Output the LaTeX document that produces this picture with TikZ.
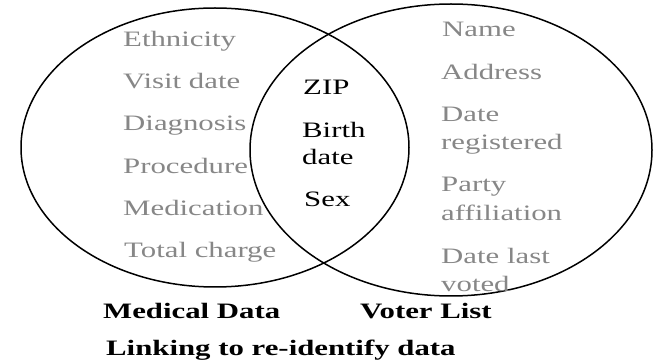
\documentclass[tikz,border=0pt]{standalone}
\usepackage{fontspec}
\setmainfont{Liberation Serif}[FakeStretch=1.4]
\begin{document}
\begin{tikzpicture}[x=1pt,y=-1pt,
  ring/.style={draw=black,line width=1.5pt},
  gtxt/.style={anchor=base west,inner sep=0pt,text=attr,font=\fontsize{22}{26}\selectfont},
  ktxt/.style={anchor=base west,inner sep=0pt,text=black,font=\fontsize{22}{26}\selectfont},
  btxt/.style={anchor=base west,inner sep=0pt,text=black,font=\fontsize{22}{26}\selectfont\bfseries}]
\definecolor{attr}{RGB}{135,135,135}
\useasboundingbox (0,0) rectangle (654,363);
\fill[white] (0,0) rectangle (654,363);
\draw[ring] (215,147.5) ellipse [x radius=194, y radius=139.5];
\draw[ring] (451,150) ellipse [x radius=201, y radius=146];
% left attributes
\node[gtxt] (eth) at (123,47) {Ethnicity};
\node[gtxt] (vis) at (123,89) {Visit date};
\node[gtxt] (dia) at (123,131) {Diagnosis};
\node[gtxt] (pro) at (123,174) {Procedure};
\node[gtxt] (med) at (123,216) {Medication};
\node[gtxt] (tot) at (124,258) {Total charge};
% shared
\node[ktxt] (zip) at (303,95) {ZIP};
\node[ktxt] (bir) at (302,138) {Birth};
\node[ktxt] (bda) at (302,165) {date};
\node[ktxt] (sex) at (304,207) {Sex};
% right attributes
\node[gtxt] (nam) at (442,37) {Name};
\node[gtxt] (adr) at (441,80) {Address};
\node[gtxt] (dr1) at (441,122) {Date};
\node[gtxt] (dr2) at (441,150) {registered};
\node[gtxt] (pa1) at (441,192) {Party};
\node[gtxt] (pa2) at (441,221) {affiliation};
\node[gtxt] (dl1) at (441,264) {Date last};
\node[gtxt] (dl2) at (441,292) {voted};
% captions
\node[btxt] (mdl) at (103,319) {Medical Data};
\node[btxt] (vll) at (360,319) {Voter List};
\node[btxt] (lnk) at (106,356) {Linking to re-identify data};
\end{tikzpicture}
\end{document}
